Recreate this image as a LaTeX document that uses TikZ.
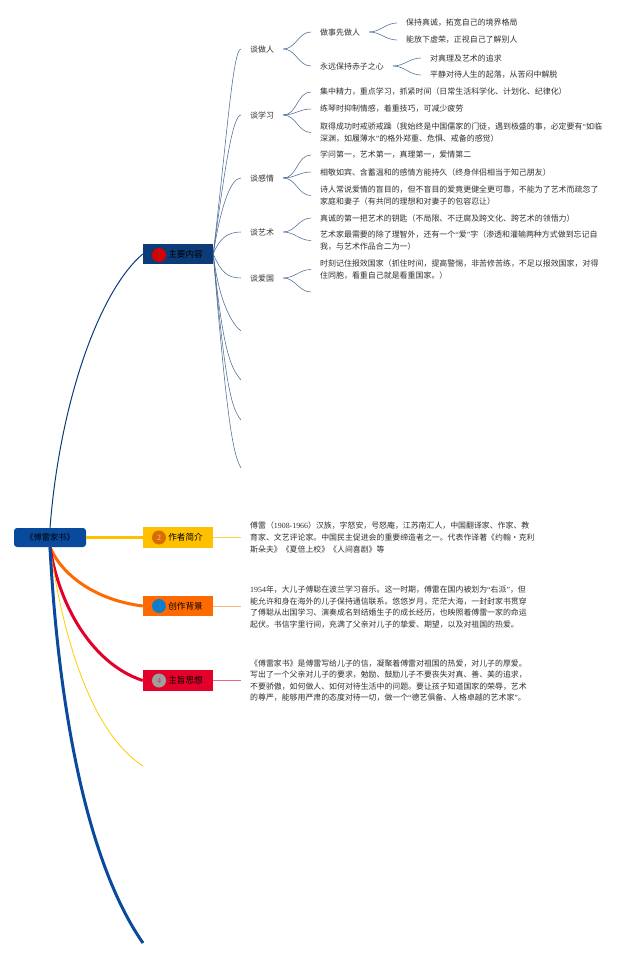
\documentclass[tikz,border=0pt]{standalone}
\usepackage{fontspec}
\setmainfont{Noto Sans CJK SC}
\newfontfamily\latn{Liberation Serif}
\definecolor{rootblue}{HTML}{0A4A9C}
\definecolor{mainblue}{HTML}{0B3C78}
\definecolor{twigblue}{HTML}{4A6A95}
\definecolor{branchyellow}{HTML}{FFC000}
\definecolor{branchorange}{HTML}{FF6A00}
\definecolor{branchred}{HTML}{E3002A}
\definecolor{inktext}{HTML}{303030}
\tikzset{
  topicbox/.style={draw=none,inner sep=0pt,minimum width=70pt,minimum height=20.5pt,font=\fontsize{8.6}{10}\selectfont,text=black},
  badge/.style={circle,inner sep=0pt,minimum size=14pt,font=\fontsize{8}{9}\selectfont},
  leaf/.style={anchor=west,inner xsep=9pt,inner ysep=0pt,align=left,text=inktext,font=\fontsize{7.95}{11.5}\selectfont},
  para/.style={anchor=west,inner xsep=9pt,inner ysep=0pt,align=left,text=inktext,font=\fontsize{7.9}{11.6}\selectfont},
  twig/.style={draw=twigblue,line width=0.55pt},
}
\begin{document}
\begin{tikzpicture}[x=1pt,y=-1pt]

      \useasboundingbox (0,0) rectangle (640,958);

      \path (50,537.5) node [draw=none,fill=rootblue,rounded corners=3pt,inner sep=0pt,minimum width=72pt,minimum height=19pt,font=\fontsize{8.2}{10}\selectfont,text=black](root_book){《傅雷家书》};

      \path (178,254) node [topicbox,fill=mainblue](topic_main){\hspace*{15pt}主要内容};
      \path (178,537.5) node [topicbox,fill=branchyellow](topic_author){\hspace*{15pt}作者简介};
      \path (178,606) node [topicbox,fill=branchorange](topic_back){\hspace*{15pt}创作背景};
      \path (178,680.5) node [topicbox,fill=branchred](topic_idea){\hspace*{15pt}主旨思想};
      \path (159,255) node [badge,fill=red!85!black,text=black!70](badge_one){\latn 1};
      \path (159,537.5) node [badge,fill=orange!85!black,text=orange!40](badge_two){\latn 2};
      \path (159,606) node [badge,fill=cyan!60!blue,text=cyan!70!blue](badge_three){\latn 3};
      \path (159,680.5) node [badge,fill=gray!75,text=red!50!gray](badge_four){\latn 4};

      % root branches
      \draw[mainblue,line width=1pt] (root_book.north) .. controls (60,400) and (100,290) .. (topic_main.west);
      \draw[branchyellow,line width=3pt] (root_book.east) -- (topic_author.west);
      \draw[branchorange,line width=3pt] (root_book.south) .. controls (62,575) and (95,600) .. (topic_back.west);
      \draw[branchred,line width=3pt] (root_book.south) .. controls (60,610) and (95,665) .. (topic_idea.west);
      \coordinate (end_yellow) at (143,766);
      \coordinate (end_blue) at (143,943);
      \draw[branchyellow!80!yellow,line width=0.8pt] (root_book.south) .. controls (65,650) and (95,735) .. (end_yellow);
      \draw[rootblue,line width=3pt] (root_book.south) .. controls (58,700) and (85,860) .. (end_blue);

      % second level
      \path (241,49) node [leaf](talk_person){谈做人};
      \path (241,115) node [leaf](talk_study){谈学习};
      \path (241,178) node [leaf](talk_love){谈感情};
      \path (241,232) node [leaf](talk_art){谈艺术};
      \path (241,278) node [leaf](talk_nation){谈爱国};
      \coordinate (end_a) at (241,331);
      \coordinate (end_b) at (241,380);
      \coordinate (end_c) at (241,420);
      \coordinate (end_d) at (241,468);
      \draw[twig] (topic_main.east) .. controls +(14,-120) and +(-8,0) .. (talk_person.west);
      \draw[twig] (topic_main.east) .. controls +(12,-90) and +(-8,0) .. (talk_study.west);
      \draw[twig] (topic_main.east) .. controls +(8,-50) and +(-10,0) .. (talk_love.west);
      \draw[twig] (topic_main.east) .. controls +(6,-15) and +(-14,0) .. (talk_art.west);
      \draw[twig] (topic_main.east) .. controls +(8,18) and +(-14,0) .. (talk_nation.west);
      \draw[twig] (topic_main.east) .. controls +(6,50) and +(-8,-6) .. (end_a);
      \draw[twig] (topic_main.east) .. controls +(10,100) and +(-10,-12) .. (end_b);
      \draw[twig] (topic_main.east) .. controls +(12,130) and +(-10,-12) .. (end_c);
      \draw[twig] (topic_main.east) .. controls +(14,170) and +(-8,-14) .. (end_d);

      % talk_person
      \path (311,32) node [leaf](person_first){做事先做人};
      \path (311,66) node [leaf](person_heart){永远保持赤子之心};
      \path (397,23) node [leaf](first_a){保持真诚，拓宽自己的境界格局};
      \path (397,40) node [leaf](first_b){能放下虚荣，正视自己了解别人};
      \path (421,58) node [leaf](heart_a){对真理及艺术的追求};
      \path (421,75) node [leaf](heart_b){平静对待人生的起落，从苦闷中解脱};
      \draw[twig] (talk_person.east) to[out=0,in=180] (person_first.west);
      \draw[twig] (talk_person.east) to[out=0,in=180] (person_heart.west);
      \draw[twig] (person_first.east) to[out=0,in=180] (first_a.west);
      \draw[twig] (person_first.east) to[out=0,in=180] (first_b.west);
      \draw[twig] (person_heart.east) to[out=0,in=180] (heart_a.west);
      \draw[twig] (person_heart.east) to[out=0,in=180] (heart_b.west);

      % talk_study
      \path (311,92) node [leaf](study_a){集中精力，重点学习，抓紧时间（日常生活科学化、计划化、纪律化）};
      \path (311,109) node [leaf](study_b){练琴时抑制情感，着重技巧，可减少疲劳};
      \path (311,132.5) node [leaf](study_c){取得成功时戒骄戒躁（我始终是中国儒家的门徒，遇到极盛的事，必定要有{\latn “}如临\\深渊，如履薄水{\latn ”}的格外郑重、危惧、戒备的感觉）};
      \draw[twig] (talk_study.east) to[out=0,in=180] (study_a.west);
      \draw[twig] (talk_study.east) to[out=0,in=180] (study_b.west);
      \draw[twig] (talk_study.east) to[out=0,in=180] (study_c.west);

      % talk_love
      \path (311,155) node [leaf](love_a){学问第一，艺术第一，真理第一，爱情第二};
      \path (311,172) node [leaf](love_b){相敬如宾、含蓄温和的感情方能持久（终身伴侣相当于知己朋友）};
      \path (311,195.5) node [leaf](love_c){诗人常说爱情的盲目的，但不盲目的爱竟更健全更可靠，不能为了艺术而疏忽了\\家庭和妻子（有共同的理想和对妻子的包容忍让）};
      \draw[twig] (talk_love.east) to[out=0,in=180] (love_a.west);
      \draw[twig] (talk_love.east) to[out=0,in=180] (love_b.west);
      \draw[twig] (talk_love.east) to[out=0,in=180] (love_c.west);

      % talk_art
      \path (311,218) node [leaf](art_a){真诚的第一把艺术的钥匙（不局限、不迂腐及跨文化、跨艺术的领悟力）};
      \path (311,240.5) node [leaf](art_b){艺术家最需要的除了理智外，还有一个{\latn “}爱{\latn ”}字（渗透和灌输两种方式做到忘记自\\我，与艺术作品合二为一）};
      \draw[twig] (talk_art.east) to[out=0,in=180] (art_a.west);
      \draw[twig] (talk_art.east) to[out=0,in=180] (art_b.west);

      % talk_nation
      \coordinate (end_nation) at (311,292);
      \path (311,269.5) node [leaf](nation_a){时刻记住报效国家（抓住时间，提高警惕，非苦修苦练，不足以报效国家，对得\\住同胞，看重自己就是看重国家。）};
      \draw[twig] (talk_nation.east) to[out=0,in=180] (nation_a.west);
      \draw[twig] (talk_nation.east) to[out=0,in=180] (end_nation);

      % paragraphs
      \path (241,537.5) node [para](text_author){傅雷（{\latn 1908-1966}）汉族，字怒安，号怒庵，江苏南汇人，中国翻译家、作家、教\\育家、文艺评论家。中国民主促进会的重要缔造者之一。代表作译著《约翰·克利\\斯朵夫》《夏倍上校》《人间喜剧》等};
      \path (241,607) node [para](text_back){{\latn 1954}年，大儿子傅聪在波兰学习音乐。这一时期，傅雷在国内被划为{\latn “}右派{\latn ”}，但\\能允许和身在海外的儿子保持通信联系。悠悠岁月，茫茫大海，一封封家书贯穿\\了傅聪从出国学习、演奏成名到结婚生子的成长经历，也映照着傅雷一家的命运\\起伏。书信字里行间，充满了父亲对儿子的挚爱、期望，以及对祖国的热爱。};
      \path (241,680.5) node [para](text_idea){《傅雷家书》是傅雷写给儿子的信，凝聚着傅雷对祖国的热爱，对儿子的厚爱。\\写出了一个父亲对儿子的要求，勉励、鼓励儿子不要丧失对真、善、美的追求，\\不要骄傲，如何做人、如何对待生活中的问题。要让孩子知道国家的荣辱，艺术\\的尊严，能够用严肃的态度对待一切，做一个{\latn “}德艺俱备、人格卓越的艺术家{\latn ”}。};
      \draw[branchyellow!70,line width=0.7pt] (topic_author.east) -- (text_author.west);
      \draw[branchorange!50,line width=0.7pt] (topic_back.east) -- (topic_back.east -| text_back.west);
      \draw[branchred!60,line width=0.7pt] (topic_idea.east) -- (text_idea.west);

    \end{tikzpicture}
\end{document}
